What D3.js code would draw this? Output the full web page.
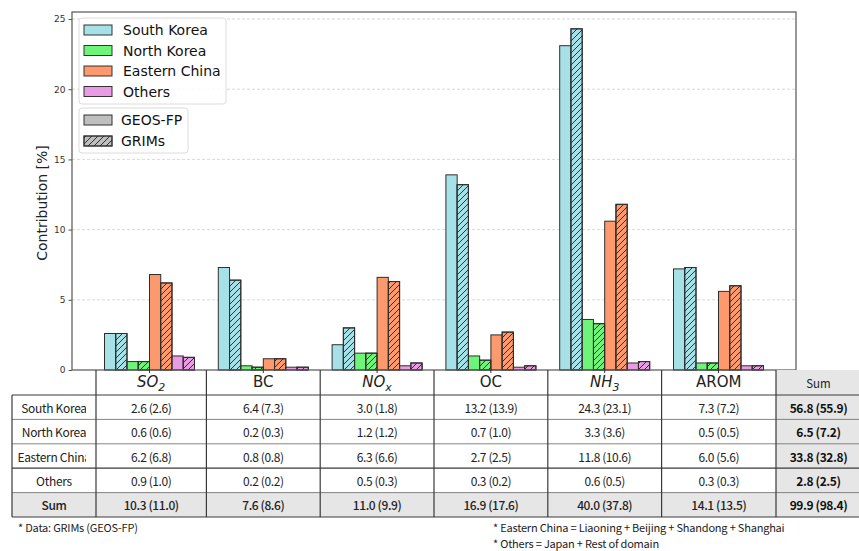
<!DOCTYPE html>
<html>
<head>
<meta charset="utf-8">
<script src="https://cdn.jsdelivr.net/npm/d3@7"></script>
<style>
  body { margin: 0; background: #fff; }
  svg { display: block; }
</style>
</head>
<body>
<svg id="chart" width="859" height="551"></svg>
<script>
// Species on the x axis
const categories = ["SO2", "BC", "NOx", "OC", "NH3", "AROM"];
const regions = ["South Korea", "North Korea", "Eastern China", "Others"];
const regionColors = ["#a6e1e7", "#6ff47a", "#fd9a6d", "#e99be4"];

// Contribution [%] by region: GRIMs (hatched) and GEOS-FP (solid)
const southKoreaGRIMs   = [2.6, 6.4, 3.0, 13.2, 24.3, 7.3];
const southKoreaGEOS    = [2.6, 7.3, 1.8, 13.9, 23.1, 7.2];
const northKoreaGRIMs   = [0.6, 0.2, 1.2, 0.7, 3.3, 0.5];
const northKoreaGEOS    = [0.6, 0.3, 1.2, 1.0, 3.6, 0.5];
const easternChinaGRIMs = [6.2, 0.8, 6.3, 2.7, 11.8, 6.0];
const easternChinaGEOS  = [6.8, 0.8, 6.6, 2.5, 10.6, 5.6];
const othersGRIMs       = [0.9, 0.2, 0.5, 0.3, 0.6, 0.3];
const othersGEOS        = [1.0, 0.2, 0.3, 0.2, 0.5, 0.3];

// Totals shown in the table
const speciesSumGRIMs = [10.3, 7.6, 11.0, 16.9, 40.0, 14.1];
const speciesSumGEOS  = [11.0, 8.6, 9.9, 17.6, 37.8, 13.5];
const regionSumGRIMs  = [56.8, 6.5, 33.8, 2.8, 99.9];
const regionSumGEOS   = [55.9, 7.2, 32.8, 2.5, 98.4];

const yTicks = [0, 5, 10, 15, 20, 25];

const grimsByRegion = [southKoreaGRIMs, northKoreaGRIMs, easternChinaGRIMs, othersGRIMs];
const geosByRegion  = [southKoreaGEOS, northKoreaGEOS, easternChinaGEOS, othersGEOS];

const svg = d3.select("#chart");
const plot = { left: 72, right: 796, top: 12, bottom: 370 };

// Hatch pattern for the GRIMs bars
const defs = svg.append("defs");
const hs = 6;
const pat = defs.append("pattern")
  .attr("id", "hatch").attr("patternUnits", "userSpaceOnUse")
  .attr("width", hs).attr("height", hs);
pat.append("path")
  .attr("d", `M0,${hs} L${hs},0 M${-hs/2},${hs/2} L${hs/2},${-hs/2} M${hs/2},${hs*1.5} L${hs*1.5},${hs/2}`)
  .attr("stroke", "#222").attr("stroke-width", 0.9);

const y = d3.scaleLinear().domain([0, 25.5]).range([plot.bottom, plot.top]);
const x = d3.scaleBand().domain(categories).range([plot.left, plot.right])
  .paddingInner(0).paddingOuter(0.181);
const groupW = 90;
const sub = d3.scaleBand().domain(d3.range(8)).range([-groupW / 2, groupW / 2]);

// Grid lines
svg.append("g").selectAll("line").data(yTicks.filter(t => t > 0)).join("line")
  .attr("x1", plot.left).attr("x2", plot.right)
  .attr("y1", d => y(d)).attr("y2", d => y(d))
  .attr("stroke", "#cfcfcf").attr("stroke-width", 0.8).attr("stroke-dasharray", "3,2");

// Bars
const bars = [];
categories.forEach((c, i) => {
  regions.forEach((r, ri) => {
    bars.push({ cat: c, region: ri, src: 0, value: geosByRegion[ri][i] });
    bars.push({ cat: c, region: ri, src: 1, value: grimsByRegion[ri][i] });
  });
});
const gBars = svg.append("g");
const bx = d => x(d.cat) + x.bandwidth() / 2 + sub(d.region * 2 + d.src);
gBars.selectAll("rect.fill").data(bars).join("rect")
  .attr("class", "fill")
  .attr("x", bx).attr("width", sub.bandwidth())
  .attr("y", d => y(d.value)).attr("height", d => y(0) - y(d.value))
  .attr("fill", d => regionColors[d.region])
  .attr("stroke", "#2e2e2e").attr("stroke-width", 1);
gBars.selectAll("rect.hatch").data(bars.filter(d => d.src === 1)).join("rect")
  .attr("class", "hatch")
  .attr("x", bx).attr("width", sub.bandwidth())
  .attr("y", d => y(d.value)).attr("height", d => y(0) - y(d.value))
  .attr("fill", "url(#hatch)")
  .attr("stroke", "#2e2e2e").attr("stroke-width", 1);

// Frame
svg.append("rect")
  .attr("x", plot.left).attr("y", plot.top)
  .attr("width", plot.right - plot.left).attr("height", plot.bottom - plot.top)
  .attr("fill", "none").attr("stroke", "#555").attr("stroke-width", 1.2);

// Y axis
const yAxis = svg.append("g").attr("transform", `translate(${plot.left},0)`)
  .call(d3.axisLeft(y).tickValues(yTicks).tickSize(3.5).tickPadding(3));
yAxis.select(".domain").remove();
yAxis.selectAll("line").attr("stroke", "#555");
yAxis.selectAll("text").attr("font-family", "DejaVu Sans").attr("font-size", 9).attr("fill", "#333");

svg.append("text")
  .attr("transform", `translate(42,${(plot.top + plot.bottom) / 2 + 12}) rotate(-90)`)
  .attr("text-anchor", "middle").attr("dominant-baseline", "central")
  .attr("font-family", "DejaVu Sans").attr("font-size", 14).attr("fill", "#222")
  .text("Contribution [%]");

// Category ticks
svg.append("g").selectAll("line").data(categories).join("line")
  .attr("x1", d => x(d) + x.bandwidth() / 2).attr("x2", d => x(d) + x.bandwidth() / 2)
  .attr("y1", plot.bottom - 1).attr("y2", plot.bottom + 3)
  .attr("stroke", "#333");

// Legends
function legendBox(x0, y0, w, h) {
  svg.append("rect").attr("x", x0).attr("y", y0).attr("width", w).attr("height", h)
    .attr("rx", 3).attr("fill", "#fff").attr("fill-opacity", 0.85)
    .attr("stroke", "#dcdcdc").attr("stroke-width", 1);
}
legendBox(79, 18, 147, 86);
regions.forEach((r, i) => {
  const cy = 30 + i * 20.5;
  svg.append("rect").attr("x", 84).attr("y", cy - 5).attr("width", 28).attr("height", 10)
    .attr("fill", regionColors[i]).attr("stroke", "#333").attr("stroke-width", 1);
  svg.append("text").attr("x", 123).attr("y", cy).attr("dominant-baseline", "central")
    .attr("font-family", "DejaVu Sans").attr("font-size", 14).attr("fill", "#111").text(r);
});
legendBox(79, 108, 109, 45);
["GEOS-FP", "GRIMs"].forEach((s, i) => {
  const cy = 120 + i * 21;
  svg.append("rect").attr("x", 84).attr("y", cy - 5).attr("width", 28).attr("height", 10)
    .attr("fill", "#bfbfbf").attr("stroke", "#333").attr("stroke-width", 1);
  if (i === 1) {
    svg.append("rect").attr("x", 84).attr("y", cy - 5).attr("width", 28).attr("height", 10)
      .attr("fill", "url(#hatch)").attr("stroke", "#333").attr("stroke-width", 1);
  }
  svg.append("text").attr("x", 121).attr("y", cy).attr("dominant-baseline", "central")
    .attr("font-family", "DejaVu Sans").attr("font-size", 14).attr("fill", "#111").text(s);
});

// Table below the chart
const tbl = svg.append("g");
const tFont = "'Noto Sans CJK KR', 'Noto Sans', sans-serif";
const rowTop = 395, rowH = 24.4;
const headTop = plot.bottom;
const tLeft = 12, labelRight = 96, sumLeft = 776, tRight = 872;
const colEdges = [labelRight];
categories.forEach((c, i) => {
  if (i > 0) colEdges.push(x(c));
});
colEdges.push(sumLeft);
const rows = regions.concat(["Sum"]);
const tBottom = rowTop + rows.length * rowH;

// grey cells: sum column and sum row
tbl.append("rect").attr("x", sumLeft).attr("y", headTop).attr("width", tRight - sumLeft)
  .attr("height", tBottom - headTop).attr("fill", "#e6e6e6");
tbl.append("rect").attr("x", tLeft).attr("y", rowTop + 4 * rowH).attr("width", tRight - tLeft)
  .attr("height", rowH).attr("fill", "#e6e6e6");

const lineC = "#3a3a3a";
// horizontal lines
d3.range(rows.length + 1).forEach(k => {
  const yy = rowTop + k * rowH;
  tbl.append("line").attr("x1", tLeft).attr("x2", tRight).attr("y1", yy).attr("y2", yy)
    .attr("stroke", k === 0 || k === 3 || k === rows.length ? lineC : "#777")
    .attr("stroke-width", k === 0 || k === 3 || k === rows.length ? 1.2 : 0.9);
});
// vertical lines
tbl.append("line").attr("x1", tLeft).attr("x2", tLeft).attr("y1", rowTop).attr("y2", tBottom)
  .attr("stroke", lineC).attr("stroke-width", 1.2);
colEdges.forEach(ex => {
  tbl.append("line").attr("x1", ex).attr("x2", ex).attr("y1", headTop).attr("y2", tBottom)
    .attr("stroke", lineC).attr("stroke-width", 1.2);
});

// header labels with subscripts
const headers = [
  { base: "SO", sub: "2", italic: true },
  { base: "BC", sub: "", italic: false },
  { base: "NO", sub: "x", italic: true },
  { base: "OC", sub: "", italic: false },
  { base: "NH", sub: "3", italic: true },
  { base: "AROM", sub: "", italic: false }
];
categories.forEach((c, i) => {
  const cx = (colEdges[i] + colEdges[i + 1]) / 2;
  const h = headers[i];
  const t = tbl.append("text").attr("x", cx).attr("y", headTop + 17)
    .attr("text-anchor", "middle").attr("font-family", "DejaVu Sans").attr("font-size", 15)
    .attr("fill", "#222").attr("font-style", h.italic ? "italic" : "normal");
  t.append("tspan").text(h.base);
  if (h.sub) t.append("tspan").attr("font-size", 11).attr("dy", 4).text(h.sub);
});
tbl.append("text").attr("x", (sumLeft + 859) / 2 + 1).attr("y", headTop + 13)
  .attr("text-anchor", "middle").attr("dominant-baseline", "central")
  .attr("font-family", tFont).attr("font-size", 11.5).attr("fill", "#222").text("Sum");

// row labels, clipped to the label column
defs.append("clipPath").attr("id", "labelClip").append("rect")
  .attr("x", tLeft).attr("y", rowTop).attr("width", 74).attr("height", rowH * 5);
const fmt = d3.format(".1f");
rows.forEach((r, ri) => {
  const cy = rowTop + ri * rowH + rowH / 2;
  const bold = ri === 4;
  tbl.append("text").attr("x", (tLeft + labelRight) / 2).attr("y", cy)
    .attr("clip-path", "url(#labelClip)")
    .attr("text-anchor", "middle").attr("dominant-baseline", "central")
    .attr("font-family", tFont).attr("font-size", 12).attr("letter-spacing", -0.3)
    .attr("font-weight", bold ? 500 : 400)
    .attr("fill", "#222").text(r);
  categories.forEach((c, i) => {
    const cx = (colEdges[i] + colEdges[i + 1]) / 2;
    const a = ri < 4 ? grimsByRegion[ri][i] : speciesSumGRIMs[i];
    const b = ri < 4 ? geosByRegion[ri][i] : speciesSumGEOS[i];
    tbl.append("text").attr("x", cx).attr("y", cy)
      .attr("text-anchor", "middle").attr("dominant-baseline", "central")
      .attr("font-family", tFont).attr("font-size", 12).attr("letter-spacing", -0.4)
      .attr("font-weight", bold ? 500 : 400)
      .attr("fill", "#222").text(`${fmt(a)} (${fmt(b)})`);
  });
  tbl.append("text").attr("x", (sumLeft + 859) / 2 + 1).attr("y", cy)
    .attr("text-anchor", "middle").attr("dominant-baseline", "central")
    .attr("font-family", tFont).attr("font-size", 12).attr("letter-spacing", -0.4)
    .attr("font-weight", 600)
    .attr("fill", "#111").text(`${fmt(regionSumGRIMs[ri])} (${fmt(regionSumGEOS[ri])})`);
});

// footnotes
const notes = [
  { x: 18, y: 527, t: "* Data: GRIMs (GEOS-FP)" },
  { x: 493, y: 527, t: "* Eastern China = Liaoning + Beijing + Shandong + Shanghai" },
  { x: 493, y: 543, t: "* Others = Japan + Rest of domain" }
];
svg.append("g").selectAll("text").data(notes).join("text")
  .attr("x", d => d.x).attr("y", d => d.y).attr("dominant-baseline", "central")
  .attr("font-family", tFont).attr("font-size", 11).attr("letter-spacing", -0.2)
  .attr("fill", "#222").text(d => d.t);
</script>
</body>
</html>
